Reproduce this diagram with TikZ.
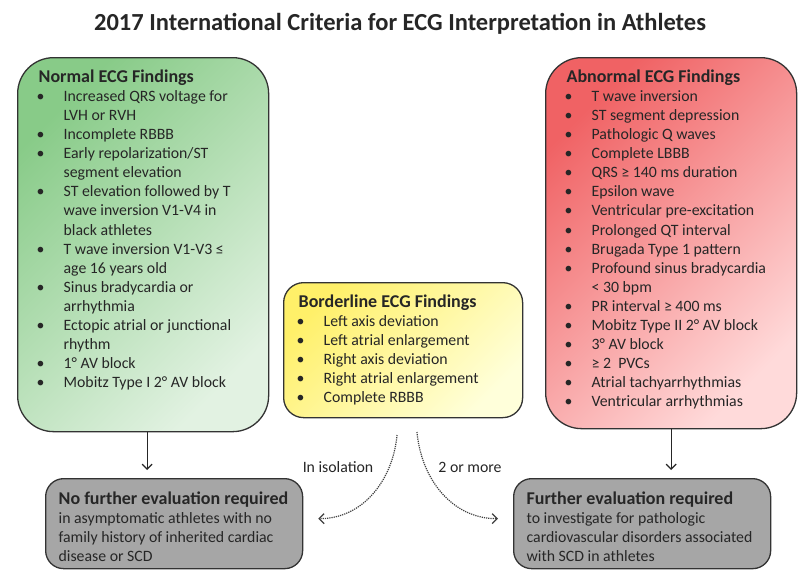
\documentclass[tikz,border=0pt]{standalone}
\usepackage{fontspec}
\setmainfont{Carlito}
\definecolor{normgreen}{RGB}{136,203,136}
\definecolor{normlight}{RGB}{226,242,226}
\definecolor{abnred}{RGB}{240,98,100}
\definecolor{abnlight}{RGB}{255,218,218}
\definecolor{bordyellow}{RGB}{255,240,105}
\definecolor{bordlight}{RGB}{255,255,218}
\definecolor{evalgray}{RGB}{166,166,166}
\usetikzlibrary{arrows.meta, positioning, calc}
\newcommand{\findhead}[1]{{\bfseries\fontsize{18}{19.1}\selectfont #1}\par}
\newcommand{\finditem}[1]{\hangindent=25pt\hangafter=1\noindent\makebox[25pt][l]{\hspace{-2pt}\textbullet}#1\par}

\begin{document}
\begin{tikzpicture}[x=1pt, y=-1pt, every node/.style={font=\fontsize{15.8}{19.1}\selectfont, text=black!85}]
        \tikzset{
          findbox/.style={draw=black!80, line width=1.3pt, anchor=north west,
                 rounded corners=36pt, inner xsep=21pt, inner ysep=12pt},
          greenbox/.style={findbox, top color=normgreen, bottom color=normlight, shading angle=45},
          redbox/.style={findbox, top color=abnred, bottom color=abnlight, shading angle=45},
          yellowbox/.style={findbox, top color=bordyellow, bottom color=bordlight, shading angle=45,
                 rounded corners=20pt, inner xsep=15pt, inner ysep=12pt},
          evalbox/.style={findbox, fill=evalgray, rounded corners=18pt,
                 inner xsep=13pt, inner ysep=13pt},
          flowarrow/.style={-{Straight Barb[length=5pt, width=10pt]}, line width=1.2pt,
                 black!85, shorten >=8pt},
          dotarrow/.style={-{Straight Barb[length=5pt, width=10pt]}, line width=1.2pt,
                 densely dotted, black!75}
        }
        \fill[white] (0,0) rectangle (800,570);
        \useasboundingbox (0,0) rectangle (800,570);
        \node[font=\bfseries\fontsize{24.5}{28}\selectfont] (title) at (400,24)
          {2017 International Criteria for ECG Interpretation in Athletes};
        \node[greenbox] (normal) at (17,57) {\parbox[c][350pt][t]{209pt}{\raggedright
          \findhead{Normal ECG Findings}
          \finditem{Increased QRS voltage for\newline LVH or RVH}
          \finditem{Incomplete RBBB}
          \finditem{Early repolarization/ST\newline segment elevation}
          \finditem{ST elevation followed by T\newline wave inversion V1-V4 in\newline black athletes}
          \finditem{T wave inversion V1-V3 ≤\newline age 16 years old}
          \finditem{Sinus bradycardia or\newline arrhythmia}
          \finditem{Ectopic atrial or junctional\newline rhythm}
          \finditem{1° AV block}
          \finditem{Mobitz Type I 2° AV block}}};
        \node[redbox] (abnormal) at (545,57) {\parbox[c][347pt][t]{209pt}{\raggedright
          \findhead{Abnormal ECG Findings}
          \finditem{T wave inversion}
          \finditem{ST segment depression}
          \finditem{Pathologic Q waves}
          \finditem{Complete LBBB}
          \finditem{QRS ≥ 140 ms duration}
          \finditem{Epsilon wave}
          \finditem{Ventricular pre-excitation}
          \finditem{Prolonged QT interval}
          \finditem{Brugada Type 1 pattern}
          \finditem{Profound sinus bradycardia\newline < 30 bpm}
          \finditem{PR interval ≥ 400 ms}
          \finditem{Mobitz Type II 2° AV block}
          \finditem{3° AV block}
          \finditem{≥ 2\ \ PVCs}
          \finditem{Atrial tachyarrhythmias}
          \finditem{Ventricular arrhythmias}}};
        \node[yellowbox] (border) at (283,282) {\parbox[c][111pt][t]{209pt}{\raggedright
          \findhead{Borderline ECG Findings}
          \finditem{Left axis deviation}
          \finditem{Left atrial enlargement}
          \finditem{Right axis deviation}
          \finditem{Right atrial enlargement}
          \finditem{Complete RBBB}}};
        \node[evalbox] (noeval) at (45,478) {\parbox[c][64pt][t]{231pt}{\raggedright
          \findhead{No further evaluation required}
          in asymptomatic athletes with no\newline
          family history of inherited cardiac\newline
          disease or SCD}};
        \node[evalbox] (furtheval) at (513,478) {\parbox[c][64pt][t]{231pt}{\raggedright
          \findhead{Further evaluation required}
          to investigate for pathologic\newline
          cardiovascular disorders associated\newline
          with SCD in athletes}};
        \coordinate (isostart) at (397,435);
        \coordinate (multistart) at (417,432);
        \draw[flowarrow] ([xshift=4pt]normal.south) -- ([xshift=4pt]normal.south |- noeval.north);
        \draw[flowarrow] (abnormal.south) -- (abnormal.south |- furtheval.north);
        \draw[dotarrow] (isostart) to[out=-95, in=0] ([xshift=15pt, yshift=5pt]noeval.east);
        \draw[dotarrow] (multistart) to[out=-85, in=180] ([xshift=-15pt, yshift=5pt]furtheval.west);
        \node (isolab) at (338,467) {In isolation};
        \node (multilab) at (470,467) {2 or more};
      \end{tikzpicture}
\end{document}
